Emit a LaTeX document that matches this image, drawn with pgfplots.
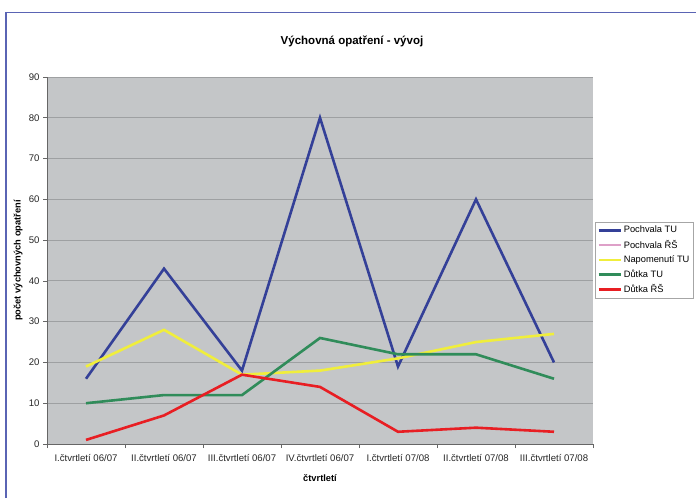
\documentclass[border=0pt]{standalone}
\usepackage{fontspec}
\setmainfont{Liberation Sans}
\usepackage{pgfplots}
\pgfplotsset{compat=1.18}
\definecolor{cblue}{RGB}{52,64,152}
\definecolor{cpink}{RGB}{222,160,200}
\definecolor{cyellow}{RGB}{240,238,60}
\definecolor{cgreen}{RGB}{48,140,90}
\definecolor{cred}{RGB}{232,30,35}
\definecolor{cbg}{RGB}{196,198,200}
\definecolor{cgrid}{RGB}{158,160,162}
\definecolor{cframe}{RGB}{90,100,180}
\begin{document}
\begin{tikzpicture}[x=1pt,y=1pt]
\path[use as bounding box, fill=white] (0,0) rectangle (696,498);
\draw[cframe, line width=1.3pt] (6,0) -- (6,485.5) -- (696,485.5);
\node[font=\bfseries\fontsize{11.5}{13}\selectfont] at (352,457) {Výchovná opatření - vývoj};
\begin{axis}[
  at={(47pt,54pt)}, anchor=south west,
  width=546pt, height=367pt, scale only axis,
  xmin=-0.5, xmax=6.5, ymin=0, ymax=90,
  axis lines*=left,
  axis line style={draw=gray!80!black, line width=0.6pt},
  axis background/.style={fill=cbg},
  ymajorgrids, grid style={cgrid, line width=0.8pt},
  ytick={0,10,...,90},
  xtick={-0.5,0.5,...,6.5},
  xticklabels={I.čtvrtletí 06/07, II.čtvrtletí 06/07, III.čtvrtletí 06/07, IV.čtvrtletí 06/07, I.čtvrtletí 07/08, II.čtvrtletí 07/08, III.čtvrtletí 07/08,{}},
  xticklabel style={xshift=39pt, yshift=-3pt},
  tick align=outside, major tick length=4pt,
  tick style={draw=gray!80!black, line width=0.6pt},
  ticklabel style={font=\fontsize{9.6}{11}\selectfont, text=black!85},
  /pgf/number format/assume math mode=true,
  xlabel={čtvrtletí},
  ylabel={počet výchovných opatření},
  label style={font=\bfseries\fontsize{9.3}{11}\selectfont},
  xlabel style={at={(axis description cs:0.5,-0.0926)}, anchor=center},
  ylabel style={at={(axis description cs:-0.053,0.5)}, anchor=center},
  legend cell align=left,
  legend style={at={(axis description cs:1.0037,0.605)}, anchor=north west,
    draw=gray!70, fill=white, font=\fontsize{9.3}{10}\selectfont,
    inner xsep=2pt, inner ysep=2pt, row sep=1.8pt},
  legend image code/.code={\draw[#1] (0pt,0pt) -- (22pt,0pt);},
]
\addplot[cblue, line width=2.6pt] coordinates {(0,16) (1,43) (2,18) (3,80) (4,19) (5,60) (6,20)};
\addlegendentry{Pochvala TU}
\addlegendimage{cpink, line width=1.2pt}
\addlegendentry{Pochvala ŘŠ}
\addplot[cyellow, line width=2.6pt] coordinates {(0,19) (1,28) (2,17) (3,18) (4,21) (5,25) (6,27)};
\addlegendentry{Napomenutí TU}
\addplot[cgreen, line width=2.6pt] coordinates {(0,10) (1,12) (2,12) (3,26) (4,22) (5,22) (6,16)};
\addlegendentry{Důtka TU}
\addplot[cred, line width=2.6pt] coordinates {(0,1) (1,7) (2,17) (3,14) (4,3) (5,4) (6,3)};
\addlegendentry{Důtka ŘŠ}
\end{axis}
\end{tikzpicture}
\end{document}
